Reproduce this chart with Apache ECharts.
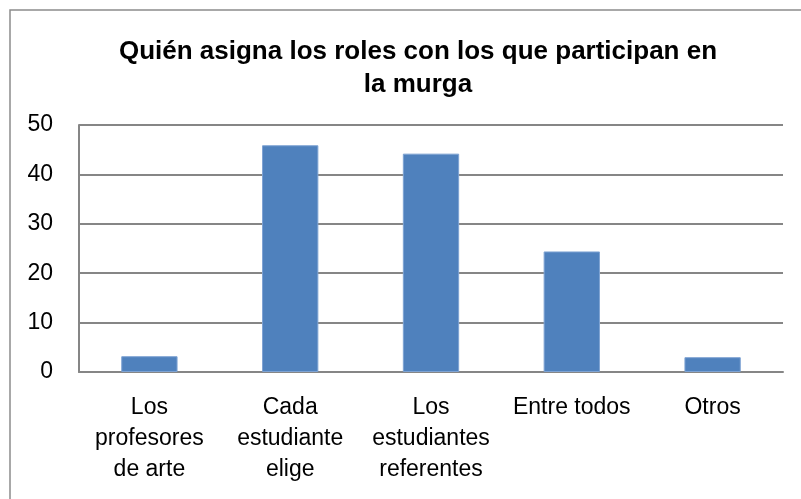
<!DOCTYPE html>
<html>
<head>
<meta charset="utf-8">
<script src="https://cdn.jsdelivr.net/npm/echarts@6/dist/echarts.min.js"></script>
<style>
html,body{margin:0;padding:0;background:#fff;}
#c{width:801px;height:499px;}
</style>
</head>
<body>
<div id="c"></div>
<script>
const titleText = "Quién asigna los roles con los que participan en\nla murga";
const categories = ["Los\nprofesores\nde arte", "Cada\nestudiante\nelige", "Los\nestudiantes\nreferentes", "Entre todos", "Otros"];
const values = [3.2, 45.9, 44.2, 24.4, 3.0];
const yTicks = [0, 10, 20, 30, 40, 50];

const chart = echarts.init(document.getElementById('c'), null, {renderer: 'canvas'});
const labelFont = "'Liberation Sans', Arial, sans-serif";
chart.setOption({
  animation: false,
  backgroundColor: '#ffffff',
  graphic: [{
    type: 'rect',
    shape: {x: 10, y: 10, width: 820, height: 520},
    style: {fill: 'none', stroke: '#8c8c8c', lineWidth: 1.5},
    silent: true
  }],
  title: {
    text: titleText,
    left: 413,
    top: 30,
    textAlign: 'center',
    textStyle: {
      fontFamily: labelFont,
      fontWeight: 'bold',
      fontSize: 26,
      lineHeight: 33,
      color: '#000'
    }
  },
  grid: {left: 79, right: 18, top: 125, bottom: 127, containLabel: false},
  xAxis: {
    type: 'category',
    data: categories,
    axisLine: {show: true, lineStyle: {color: '#868686', width: 2}},
    axisTick: {show: false},
    axisLabel: {
      interval: 0,
      margin: 20,
      verticalAlign: 'top',
      fontFamily: labelFont,
      fontSize: 23,
      lineHeight: 31,
      color: '#000'
    }
  },
  yAxis: {
    type: 'value',
    min: yTicks[0],
    max: yTicks[yTicks.length - 1],
    interval: 10,
    axisLine: {show: true, lineStyle: {color: '#868686', width: 2}},
    axisTick: {show: false},
    splitLine: {show: true, lineStyle: {color: '#868686', width: 2}},
    axisLabel: {
      margin: 26,
      fontFamily: labelFont,
      fontSize: 23,
      color: '#000'
    }
  },
  series: [{
    type: 'bar',
    data: values,
    barWidth: '40%',
    itemStyle: {color: '#4F81BD', borderColor: '#7ea3d3', borderWidth: 1}
  }]
});
</script>
</body>
</html>
